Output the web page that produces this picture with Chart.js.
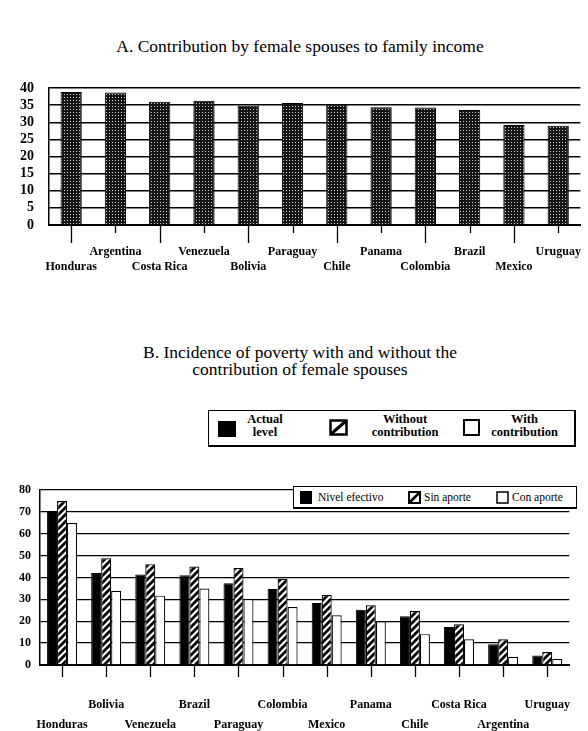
<!DOCTYPE html>
<html>
<head>
<meta charset="utf-8">
<script src="https://cdn.jsdelivr.net/npm/chart.js@4.4.1/dist/chart.umd.min.js"></script>
<style>
  body { margin: 0; width: 588px; height: 731px; overflow: hidden; background: #fff; position: relative; font-family: "Liberation Serif", "DejaVu Serif", serif; color: #000; }
  .title { position: absolute; left: 0; width: 600px; text-align: center; font-size: 17.5px; line-height: 17px; }
  .box { position: absolute; width: 600px; }
  .legend1 { position: absolute; left: 208px; top: 410px; width: 365px; height: 34px; border: 1px solid #000; border-right-width: 2px; border-bottom-width: 2px; font-weight: bold; font-size: 12.5px; line-height: 13px; }
  .legend1 .it { position: absolute; top: 2px; text-align: center; }
  .legend1 svg, .legend2 svg { position: absolute; }
  .legend2 { position: absolute; left: 293px; top: 486px; width: 282px; height: 20px; border: 1px solid #000; border-bottom-width: 2px; background: #fff; font-size: 11.5px; line-height: 20px; }
  .legend2 span { position: absolute; top: 0; white-space: nowrap; }
</style>
</head>
<body>
<div class="title" style="top:38px;">A. Contribution by female spouses to family income</div>
<div class="box" style="top:66px;height:219px;"><canvas id="chartA"></canvas></div>

<div class="title" style="top:344px;">B. Incidence of poverty with and without the<br>contribution of female spouses</div>
<div class="legend1">
  <svg style="left:9px;top:10px" width="18" height="16"><rect x="0" y="0" width="18" height="16" fill="#000"/></svg>
  <div class="it" style="left:34px;width:44px;">Actual<br>level</div>
  <svg style="left:120px;top:8px" width="19" height="17"><rect x="1.5" y="1.5" width="16" height="14" fill="#fff" stroke="#000" stroke-width="2.5"/><line x1="2" y1="15" x2="17" y2="2" stroke="#000" stroke-width="3"/></svg>
  <div class="it" style="left:146px;width:100px;">Without<br>contribution</div>
  <svg style="left:254px;top:8px" width="17" height="17"><rect x="1" y="1" width="15" height="15" fill="#fff" stroke="#000" stroke-width="2"/></svg>
  <div class="it" style="left:268px;width:95px;">With<br>contribution</div>
</div>

<div class="box" style="top:475px;height:256px;"><canvas id="chartB"></canvas></div>
<div class="legend2">
  <svg style="left:6px;top:4px" width="12" height="13"><rect x="0" y="0" width="12" height="13" fill="#000"/></svg>
  <span style="left:24px;">Nivel efectivo</span>
  <svg style="left:114px;top:4px" width="13" height="13"><rect x="1" y="1" width="11" height="11" fill="#fff" stroke="#000" stroke-width="2"/><line x1="1" y1="12" x2="12" y2="1" stroke="#000" stroke-width="2.5"/></svg>
  <span style="left:130px;">Sin aporte</span>
  <svg style="left:202px;top:4px" width="13" height="13"><rect x="1" y="1" width="11" height="11" fill="#fff" stroke="#000" stroke-width="1.5"/></svg>
  <span style="left:218px;">Con aporte</span>
</div>

<script>
// chart A
const countriesA = ['Honduras', 'Argentina', 'Costa Rica', 'Venezuela', 'Bolivia', 'Paraguay', 'Chile', 'Panama', 'Colombia', 'Brazil', 'Mexico', 'Uruguay'];
const contribution = [38.8, 38.7, 36.0, 36.3, 34.8, 35.6, 35.2, 34.4, 34.3, 33.6, 29.2, 29.0];
const yMaxA = 40, yStepA = 5;

// chart B
const countriesB = ['Honduras', 'Bolivia', 'Venezuela', 'Brazil', 'Paraguay', 'Colombia', 'Mexico', 'Panama', 'Chile', 'Costa Rica', 'Argentina', 'Uruguay'];
const actualLevel = [70, 42.1, 41.4, 41, 37.4, 34.7, 28.3, 25.3, 22.3, 17.4, 9.5, 4.3];
const withoutContribution = [75, 48.8, 46.1, 45, 44.3, 39.4, 32, 27.3, 24.7, 18.6, 11.8, 6];
const withContribution = [64.9, 33.9, 31.7, 35, 30.2, 26.5, 22.7, 20, 14.1, 11.8, 3.8, 2.7];
const yMaxB = 80, yStepB = 10;

const serif = '"Liberation Serif", "DejaVu Serif", serif';

function dotPattern() {
  const c = document.createElement('canvas');
  c.width = 3; c.height = 3;
  const g = c.getContext('2d');
  g.fillStyle = '#151515'; g.fillRect(0, 0, 3, 3);
  g.fillStyle = '#cfcfcf'; g.fillRect(1, 1, 1, 1);
  return g.createPattern(c, 'repeat');
}
function hatchPattern() {
  const c = document.createElement('canvas');
  c.width = 7; c.height = 7;
  const g = c.getContext('2d');
  g.fillStyle = '#fff'; g.fillRect(0, 0, 7, 7);
  g.strokeStyle = '#000'; g.lineWidth = 2.8;
  g.beginPath();
  g.moveTo(-1, 8); g.lineTo(8, -1);
  g.moveTo(-4.5, 4.5); g.lineTo(4.5, -4.5);
  g.moveTo(2.5, 11.5); g.lineTo(11.5, 2.5);
  g.stroke();
  return g.createPattern(c, 'repeat');
}

// vertical tick marks under the x axis, alternating long / short
const tickMarks = {
  id: 'tickMarks',
  afterDraw(chart, args, opts) {
    const x = chart.scales.x, ctx = chart.ctx;
    ctx.save();
    ctx.strokeStyle = '#000';
    ctx.lineWidth = 1.3;
    x.ticks.forEach((t, i) => {
      const px = Math.round(x.getPixelForTick(i)) + 0.5;
      const len = i % 2 === 0 ? opts.long : opts.short;
      ctx.beginPath();
      ctx.moveTo(px, x.top);
      ctx.lineTo(px, x.top + len);
      ctx.stroke();
    });
    ctx.restore();
  }
};

function staggered(labels) {
  return function (value, i) {
    return i % 2 === 0 ? ['', labels[i]] : [labels[i], ''];
  };
}

new Chart(document.getElementById('chartA'), {
  type: 'bar',
  data: {
    labels: countriesA,
    datasets: [{
      data: contribution,
      backgroundColor: dotPattern(),
      borderColor: '#000',
      borderWidth: 1,
      barPercentage: 0.48,
      categoryPercentage: 1
    }]
  },
  options: {
    animation: false,
    responsive: true,
    maintainAspectRatio: false,
    layout: { padding: { top: 14, right: 3, left: 0, bottom: 0 } },
    plugins: {
      legend: { display: false },
      tooltip: { enabled: false },
      tickMarks: { long: 18, short: 8 }
    },
    scales: {
      x: {
        grid: { display: false, drawTicks: false },
        border: { color: '#000', width: 2 },
        afterFit: s => { s.height = 60; },
        ticks: {
          callback: staggered(countriesA),
          autoSkip: false, maxRotation: 0, minRotation: 0,
          padding: 19,
          color: '#000',
          font: { family: serif, size: 12, weight: 'bold', lineHeight: 1.3 }
        }
      },
      y: {
        min: 0, max: yMaxA,
        afterFit: s => { s.width = 49; },
        grid: { color: '#000', lineWidth: 1.5, drawTicks: false },
        border: { color: '#000', width: 1.5 },
        ticks: {
          stepSize: yStepA, padding: 15, color: '#000',
          font: { family: serif, size: 14, weight: 'bold', lineHeight: 1 }
        }
      }
    }
  },
  plugins: [tickMarks]
});

new Chart(document.getElementById('chartB'), {
  type: 'bar',
  data: {
    labels: countriesB,
    datasets: [
      { label: 'Nivel efectivo', data: actualLevel, backgroundColor: '#000', borderColor: '#000', borderWidth: 1 },
      { label: 'Sin aporte', data: withoutContribution, backgroundColor: hatchPattern(), borderColor: '#000', borderWidth: 1.2 },
      { label: 'Con aporte', data: withContribution, backgroundColor: '#fff', borderColor: '#000', borderWidth: 1.2 }
    ]
  },
  options: {
    animation: false,
    responsive: true,
    maintainAspectRatio: false,
    layout: { padding: { top: 12, right: 2, left: 0, bottom: 0 } },
    datasets: { bar: { barPercentage: 1, categoryPercentage: 0.68 } },
    plugins: {
      legend: { display: false },
      tooltip: { enabled: false },
      tickMarks: { long: 12, short: 12 }
    },
    scales: {
      x: {
        grid: { display: false, drawTicks: false },
        border: { color: '#000', width: 2 },
        afterFit: s => { s.height = 66; },
        ticks: {
          callback: staggered(countriesB),
          autoSkip: false, maxRotation: 0, minRotation: 0,
          padding: 30,
          color: '#000',
          font: { family: serif, size: 12, weight: 'bold', lineHeight: 1.65 }
        }
      },
      y: {
        min: 0, max: yMaxB,
        afterFit: s => { s.width = 40; },
        grid: { color: '#000', lineWidth: 1.3, drawTicks: false },
        border: { color: '#000', width: 1.5 },
        ticks: {
          stepSize: yStepB, padding: 9, color: '#000',
          font: { family: serif, size: 12, weight: 'bold', lineHeight: 1 }
        }
      }
    }
  },
  plugins: [tickMarks]
});
</script>
</body>
</html>
